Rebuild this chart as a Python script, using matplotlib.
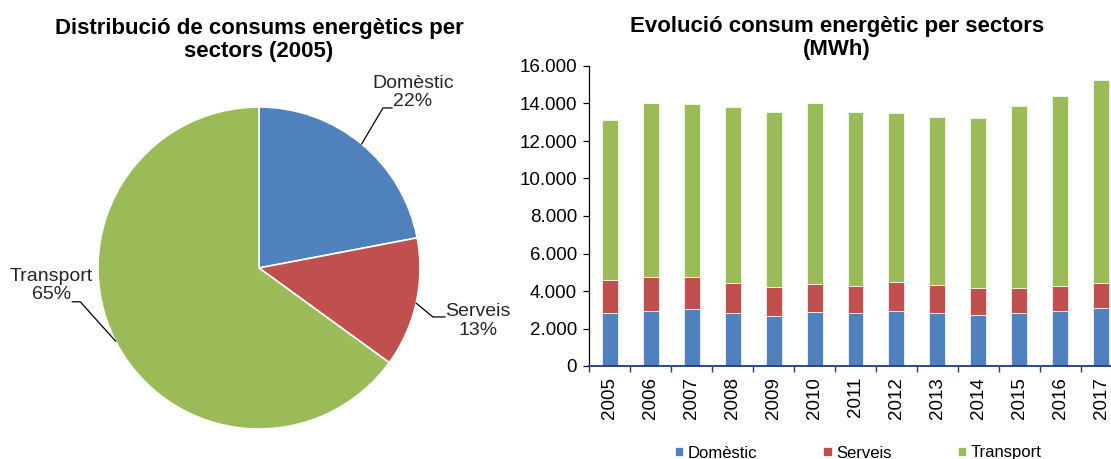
import numpy as np
import matplotlib
matplotlib.use("Agg")
import matplotlib.pyplot as plt
from matplotlib.ticker import FuncFormatter, FixedLocator

plt.rcParams['font.family'] = ['Liberation Sans', 'DejaVu Sans']

# data
sectors = ["Domèstic", "Serveis", "Transport"]
colors = ["#4F81BD", "#C0504D", "#9BBB59"]
pie_2005 = [22, 13, 65]

years = [2005, 2006, 2007, 2008, 2009, 2010, 2011, 2012, 2013, 2014, 2015, 2016, 2017]
domestic = [2830, 2915, 3060, 2830, 2670, 2880, 2830, 2930, 2830, 2700, 2830, 2915, 3090]
serveis = [1760, 1815, 1670, 1615, 1560, 1490, 1440, 1550, 1470, 1480, 1330, 1350, 1350]
transport = [8530, 9280, 9240, 9370, 9300, 9650, 9300, 9010, 8980, 9070, 9720, 10115, 10790]

W, H = 1111, 459
fig = plt.figure(figsize=(W / 100, H / 100), dpi=100)

# ---- pie ----
cx, cy, r = 259, 268, 161
ax1 = fig.add_axes([(cx - r) / W, (H - cy - r) / H, 2 * r / W, 2 * r / H])
wedges, _ = ax1.pie(pie_2005, colors=colors, startangle=90, counterclock=False,
                    wedgeprops=dict(edgecolor="white", linewidth=1.2))
ax1.set_xlim(-1, 1)
ax1.set_ylim(-1, 1)

# label text positions and elbow points (axes data units)
label_pos = [(0.955, 1.09), (1.36, -0.33), (-1.29, -0.11)]
elbows = [((0.77, 0.994), (0.826, 0.994)),
          ((1.08, -0.304), (1.155, -0.304)),
          ((-1.11, -0.21), (-1.16, -0.21))]
for w, name, pct, pos, (e1, e2) in zip(wedges, sectors, pie_2005, label_pos, elbows):
    ang = np.deg2rad((w.theta1 + w.theta2) / 2)
    x0, y0 = np.cos(ang), np.sin(ang)
    ax1.plot([x0, e1[0], e2[0]], [y0, e1[1], e2[1]], color="black", lw=0.9, clip_on=False)
    ax1.text(pos[0], pos[1], f"{name}\n{pct}%", ha="center", va="center",
             fontsize=14, color="#262626", linespacing=1.1)

fig.text(259 / W, 1 - 40 / H, "Distribució de consums energètics per\nsectors (2005)",
         ha="center", va="center", fontsize=16, fontweight="bold", linespacing=1.1)

# ---- stacked bars ----
ax2 = fig.add_axes([589.5 / W, (H - 366) / H, 532 / W, 300 / H])
x = np.arange(len(years))
bw = 0.39
b1 = ax2.bar(x, domestic, bw, color=colors[0], edgecolor="white", linewidth=0.5)
bottom2 = np.array(domestic)
b2 = ax2.bar(x, serveis, bw, bottom=bottom2, color=colors[1], edgecolor="white", linewidth=0.5)
bottom3 = bottom2 + np.array(serveis)
b3 = ax2.bar(x, transport, bw, bottom=bottom3, color=colors[2], edgecolor="white", linewidth=0.5)

ax2.set_xlim(-0.5, len(years) - 0.5)
ax2.set_ylim(0, 16000)
ax2.set_yticks(np.arange(0, 16001, 2000))
ax2.yaxis.set_major_formatter(FuncFormatter(lambda v, p: f"{int(v):,}".replace(",", ".")))
ax2.set_xticks(x)
ax2.set_xticklabels([str(y) for y in years], rotation=90)
ax2.xaxis.set_minor_locator(FixedLocator(np.arange(-0.5, len(years), 1.0)))
ax2.tick_params(axis="x", which="major", length=0, pad=8, labelsize=13.5)
ax2.tick_params(axis="x", which="minor", length=4, color="#1F3A7A", width=1)
ax2.tick_params(axis="y", length=4, width=0.9, labelsize=13.5, pad=5)
for s in ["top", "right"]:
    ax2.spines[s].set_visible(False)
ax2.spines["left"].set_color("black")
ax2.spines["left"].set_linewidth(0.9)
ax2.spines["bottom"].set_color("#1F3A7A")
ax2.spines["bottom"].set_linewidth(1.3)

fig.text(837 / W, 1 - 38 / H, "Evolució consum energètic per sectors\n(MWh)",
         ha="center", va="center", fontsize=16, fontweight="bold", linespacing=1.1)

fig.legend([b1, b2, b3], sectors, loc="center", bbox_to_anchor=(858 / W, 1 - 453 / H),
           ncol=3, frameon=False, fontsize=12, handlelength=0.5, handleheight=0.5,
           handletextpad=0.25, columnspacing=4.0)

fig.savefig("out.png", dpi=100)
